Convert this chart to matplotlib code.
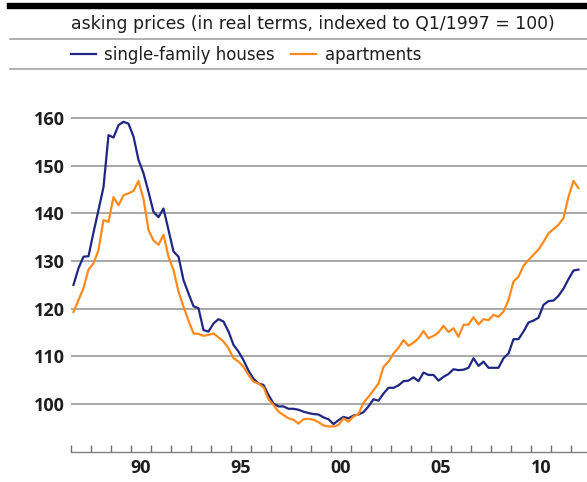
import matplotlib
matplotlib.use("Agg")
import matplotlib.pyplot as plt
from matplotlib.lines import Line2D
import numpy as np

# ---------------- data (quarterly, 1987Q1 .. 2012Q2) ----------------
start_year = 1987
houses = [
    125.0, 128.5, 130.9, 131.0,   # 1987
    136.0, 140.7, 145.5, 156.4,   # 1988
    155.9, 158.5, 159.2, 158.8,   # 1989
    156.1, 151.2, 148.4, 144.5,   # 1990
    140.3, 139.2, 141.0, 136.5,   # 1991
    132.0, 130.9, 126.0, 123.2,   # 1992
    120.5, 120.1, 115.5, 115.2,   # 1993
    116.9, 117.8, 117.3, 115.2,   # 1994
    112.4, 111.0, 109.2, 107.0,   # 1995
    105.3, 104.3, 104.0, 101.9,   # 1996
    100.1, 99.5, 99.5, 99.0,      # 1997
    99.0, 98.8, 98.4, 98.1,       # 1998
    97.9, 97.8, 97.2, 96.8,       # 1999
    95.8, 96.6, 97.3, 97.0,       # 2000
    97.6, 97.8, 98.3, 99.5,       # 2001
    101.0, 100.7, 102.2, 103.4,   # 2002
    103.4, 103.9, 104.8, 104.9,   # 2003
    105.6, 104.8, 106.6, 106.1,   # 2004
    106.1, 104.9, 105.7, 106.3,   # 2005
    107.3, 107.1, 107.2, 107.6,   # 2006
    109.6, 108.0, 108.9, 107.6,   # 2007
    107.6, 107.6, 109.6, 110.6,   # 2008
    113.6, 113.6, 115.2, 117.1,   # 2009
    117.5, 118.1, 120.8, 121.6,   # 2010
    121.7, 122.7, 124.2, 126.2,   # 2011
    128.0, 128.2,                 # 2012
]
apartments = [
    119.3, 121.8, 124.3, 128.2,   # 1987
    129.5, 132.3, 138.6, 138.2,   # 1988
    143.4, 141.7, 143.8, 144.2,   # 1989
    144.7, 146.8, 143.0, 136.5,   # 1990
    134.3, 133.4, 135.5, 130.9,   # 1991
    128.1, 123.6, 120.4, 117.5,   # 1992
    114.8, 114.7, 114.3, 114.5,   # 1993
    114.8, 114.0, 113.1, 111.7,   # 1994
    109.6, 108.9, 107.8, 106.1,   # 1995
    104.7, 104.3, 103.5, 101.0,   # 1996
    99.8, 98.4, 97.7, 97.0,       # 1997
    96.7, 95.9, 96.8, 96.9,       # 1998
    96.7, 96.2, 95.5, 95.3,       # 1999
    95.3, 95.6, 97.0, 96.3,       # 2000
    97.4, 97.9, 100.3, 101.5,     # 2001
    102.9, 104.3, 107.8, 108.9,   # 2002
    110.6, 111.8, 113.4, 112.2,   # 2003
    112.9, 113.8, 115.3, 113.8,   # 2004
    114.3, 115.0, 116.4, 115.1,   # 2005
    115.9, 114.1, 116.6, 116.7,   # 2006
    118.2, 116.7, 117.8, 117.6,   # 2007
    118.7, 118.3, 119.4, 121.8,   # 2008
    125.7, 126.7, 129.0, 130.2,   # 2009
    131.3, 132.4, 134.0, 135.8,   # 2010
    136.7, 137.6, 139.0, 143.5,   # 2011
    146.8, 145.3,                 # 2012
]
series_labels = ["single-family houses", "apartments"]
title_text = "asking prices (in real terms, indexed to Q1/1997 = 100)"
y_ticks = [100, 110, 120, 130, 140, 150, 160]
x_label_years = [1990, 1995, 2000, 2005, 2010]
x_label_text = ["90", "95", "00", "05", "10"]

# quarter mid-points
t = start_year + (np.arange(len(houses)) + 0.5) / 4.0

# ---------------- styling ----------------
W, H = 587, 482
BLUE = "#1f2783"
ORANGE = "#ff8a1c"
GRID = "#a0a0a0"
TEXT = "#1e1e1e"
TXT_FONT = ["DejaVu Sans"]
NUM_FONT = ["Open Sans", "DejaVu Sans"]

fig = plt.figure(figsize=(W / 100, H / 100), dpi=100)
fig.patch.set_facecolor("white")

ax_l, ax_r = 71 / W, 1.0
ax_b, ax_t = 1 - 451.7 / H, 1 - 70.3 / H
ax = fig.add_axes([ax_l, ax_b, ax_r - ax_l, ax_t - ax_b])

l1, = ax.plot(t, houses, color=BLUE, lw=1.6, solid_joinstyle="round", zorder=3,
              label=series_labels[0])
l2, = ax.plot(t, apartments, color=ORANGE, lw=1.6, solid_joinstyle="round", zorder=3,
              label=series_labels[1])

ax.set_xlim(1987, 2012.8)
ax.set_ylim(90, 170)

for v in y_ticks:
    ax.axhline(v, color=GRID, lw=1.3, zorder=1)

ax.set_yticks(y_ticks)
ax.set_yticklabels([str(v) for v in y_ticks], fontsize=13, fontweight="bold",
                   family=NUM_FONT, color=TEXT)
ax.tick_params(axis="y", length=0, pad=4.5)

ax.set_xticks(np.arange(1987, 2013))
ax.set_xticklabels([])
ax.tick_params(axis="x", which="major", direction="in", length=5, width=1.0,
               color="#707070")
ax.set_xticks([y + 0.5 for y in x_label_years], minor=True)
ax.set_xticklabels(x_label_text, minor=True, fontsize=13, fontweight="bold",
                   family=NUM_FONT, color=TEXT)
ax.tick_params(axis="x", which="minor", length=0, pad=5)

for s in ["top", "left", "right"]:
    ax.spines[s].set_visible(False)
ax.spines["bottom"].set_color("#808080")
ax.spines["bottom"].set_linewidth(1.0)

# ---------------- header ----------------
def fy(px):
    return 1 - px / H

fig.add_artist(Line2D([10 / W, 1], [fy(6.2), fy(6.2)], color="black", lw=4.6))
fig.add_artist(Line2D([10 / W, 1], [fy(39), fy(39)], color="#9a9a9a", lw=1.1))
fig.add_artist(Line2D([10 / W, 1], [fy(69), fy(69)], color="#9a9a9a", lw=1.1))

fig.text(71 / W, fy(24), title_text, fontsize=12.4, family=TXT_FONT, color=TEXT,
         ha="left", va="center")

fig.legend(handles=[l1, l2], labels=series_labels, loc="center left",
           bbox_to_anchor=(64 / W, fy(54.5)), ncol=2, frameon=False,
           prop={"family": TXT_FONT, "size": 12}, handlelength=1.5,
           handletextpad=0.5, columnspacing=1.0, borderaxespad=0, labelcolor=TEXT)

fig.savefig("out.png", dpi=100, facecolor="white")
